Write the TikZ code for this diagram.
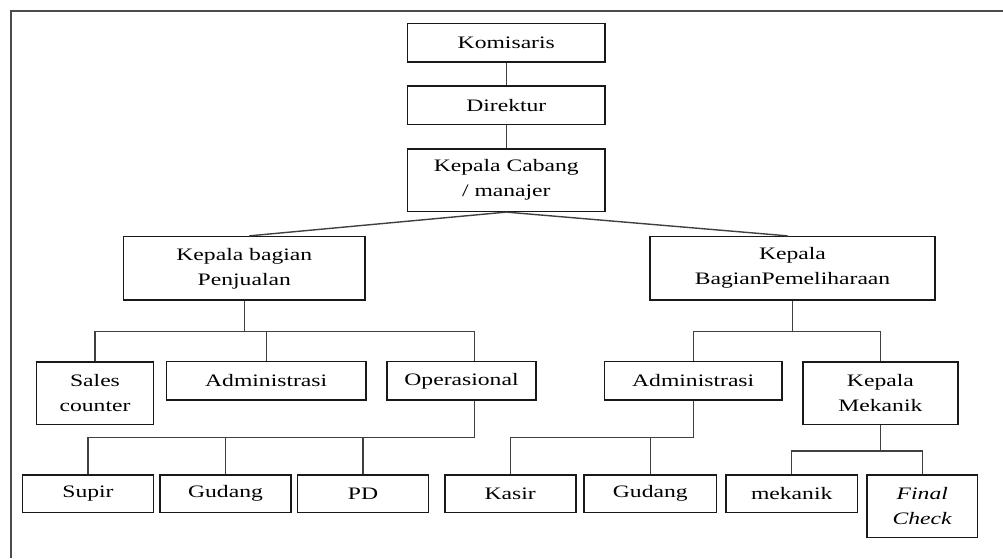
\documentclass[tikz,border=0pt]{standalone}
\usepackage{fontspec}
\setmainfont{Liberation Serif}[FakeStretch=1.35]

\tikzset{
  box/.style={draw=black!90, line width=1.6pt, inner sep=0pt, align=center,
    font=\fontsize{17.5}{25}\selectfont, text=black},
  link/.style={draw=black!75, line width=1.4pt},
  frame/.style={draw=black!70, line width=1.8pt}
}

\begin{document}
\begin{tikzpicture}[x=1pt, y=-1pt]
      \useasboundingbox (0,0) rectangle (1003,558);
      \draw[frame] (1003,11) -- (11,11) -- (11,558);
      \node[box, minimum width=197.5pt, minimum height=38.4pt] (kom) at (506.3, 42.5) {Komisaris};
      \node[box, minimum width=197.5pt, minimum height=38.4pt] (dir) at (506.3, 105.2) {Direktur};
      \node[box, minimum width=197.5pt, minimum height=62.6pt] (cab) at (506.3, 180) {Kepala Cabang\\/ manajer};
      \node[box, minimum width=241.5pt, minimum height=63.3pt] (pjl) at (244.3, 268.3) {Kepala bagian\\Penjualan};
      \node[box, minimum width=285pt, minimum height=63.3pt] (pml) at (792.5, 268.3) {Kepala\\BagianPemeliharaan};
      \node[box, minimum width=117pt, minimum height=62.6pt] (sales) at (95, 393) {Sales\\counter};
      \node[box, minimum width=199.7pt, minimum height=38.3pt] (admA) at (266.2, 380.8) {Administrasi};
      \node[box, minimum width=149pt, minimum height=38.3pt] (ops) at (461.5, 380.8) {Operasional};
      \node[box, minimum width=177.2pt, minimum height=38.3pt] (admB) at (693.2, 380.8) {Administrasi};
      \node[box, minimum width=154.7pt, minimum height=62.6pt] (mek) at (880.4, 393) {Kepala\\Mekanik};
      \node[box, minimum width=131pt, minimum height=37.3pt] (supir) at (88, 493.7) {Supir};
      \node[box, minimum width=131pt, minimum height=37.3pt] (gudA) at (225.5, 493.7) {Gudang};
      \node[box, minimum width=131pt, minimum height=37.3pt] (pd) at (363, 493.7) {PD};
      \node[box, minimum width=131pt, minimum height=37.3pt] (kasir) at (510.2, 493.7) {Kasir};
      \node[box, minimum width=132.5pt, minimum height=37.3pt] (gudB) at (650.3, 493.7) {Gudang};
      \node[box, minimum width=131.3pt, minimum height=37.3pt] (mekanik) at (791.7, 493.7) {mekanik};
      \node[box, minimum width=110.7pt, minimum height=62.3pt] (final) at (922.3, 506.2) {\textit{Final}\\\textit{Check}};
      \draw[link] (kom) -- (dir);
      \draw[link] (dir) -- (cab);
      \draw[link] (cab.south) -- ([xshift=5pt]pjl.north);
      \draw[link] (cab.south) -- ([xshift=-5pt]pml.north);
      \draw[link] (pjl.south) -- ++(0,31) coordinate (pjlbar);
      \draw[link] (sales.north) |- (pjlbar) -| ([xshift=13pt]ops.north);
      \draw[link] (admA.north) -- (admA.north |- pjlbar);
      \draw[link] ([xshift=13pt]ops.south) -- ++(0,37) coordinate (opsbar);
      \draw[link] (supir.north) |- (opsbar);
      \draw[link] (gudA.north) -- (gudA.north |- opsbar);
      \draw[link] (pd.north) -- (pd.north |- opsbar);
      \draw[link] (pml.south) -- ++(0,31) coordinate (pmlbar);
      \draw[link] (admB.north) |- (pmlbar) -| (mek.north);
      \draw[link] (admB.south) -- ++(0,37) coordinate (admbar);
      \draw[link] (kasir.north) |- (admbar);
      \draw[link] (gudB.north) -- (gudB.north |- admbar);
      \draw[link] (mek.south) -- ++(0,26) coordinate (mekbar);
      \draw[link] (mekanik.north) |- (mekbar) -| (final.north);
\end{tikzpicture}
\end{document}
